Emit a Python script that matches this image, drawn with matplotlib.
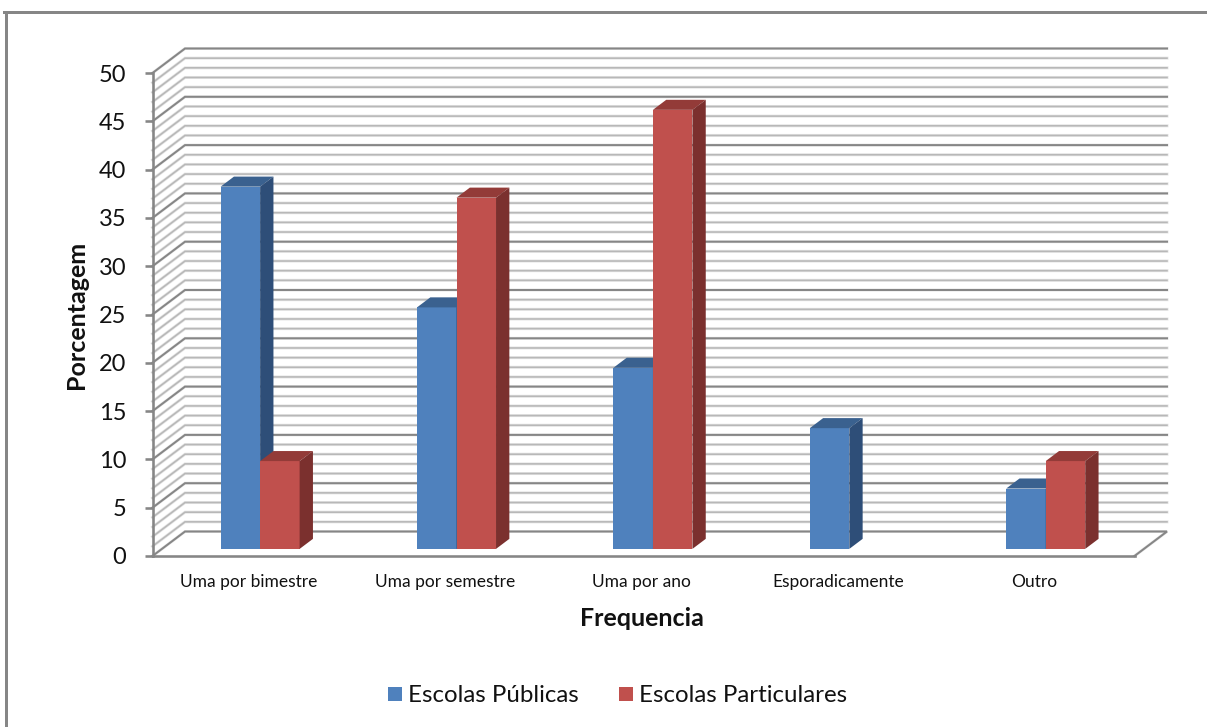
""" frequencia por tipo de escola, 3D look column chart """

import matplotlib
matplotlib.use('Agg')
import matplotlib.pyplot as plt
from matplotlib.lines import Line2D
from matplotlib.patches import Patch, Polygon

categories = ['Uma por bimestre', 'Uma por semestre', 'Uma por ano', 'Esporadicamente', 'Outro']
publicas = [37.5, 25, 18.75, 12.5, 6.25]
particulares = [9.09, 36.36, 45.45, 0, 9.09]
series_names = ['Escolas Públicas', 'Escolas Particulares']
y_ticks = list(range(0, 55, 5))

W, H = 1207, 727
AX_L, AX_R, AX_T, AX_B = 152.5, 1134.5, 73, 556

plt.rcParams['font.family'] = ['Lato', 'DejaVu Sans']
px = 0.72  # one pixel in points at dpi 100

fig = plt.figure(figsize=(W / 100, H / 100), dpi=100)
ax = fig.add_axes([AX_L / W, 1 - AX_B / H, (AX_R - AX_L) / W, (AX_B - AX_T) / H])
ax.set_xlim(0, len(categories))
ax.set_ylim(0, 50)
ax.patch.set_alpha(0)

# depth of the fake 3D box, in data units
DX = 32.5 / ((AX_R - AX_L) / len(categories))
DY = 24.5 / ((AX_B - AX_T) / 50)
n = len(categories)

# walls
for v in range(0, 51):
    major = v % 5 == 0
    color = '#868686' if major else '#b8b8b8'
    xs = [0, DX, n + DX]
    ys = [v, v + DY, v + DY]
    if v == 0:
        xs = [n, n + DX, DX, 0]
        ys = [0, DY, DY, 0]
    ax.plot(xs, ys, color='#e6e6e6', lw=3.0 * px, clip_on=False, zorder=1, solid_joinstyle='miter')
    ax.plot(xs, ys, color=color, lw=(2.0 if major else 1.6) * px, clip_on=False, zorder=1.1,
            solid_joinstyle='miter')

# bars
BAR_W = 39.5 / ((AX_R - AX_L) / n)
BASE_F = 0.29
DEPTH_F = 0.41


def draw_bars(values, offset, front, top, side, z):
    for i, v in enumerate(values):
        if v == 0:
            continue
        x0 = i + 0.5 + BASE_F * DX + offset
        y0 = BASE_F * DY
        ddx, ddy = DEPTH_F * DX, DEPTH_F * DY
        ax.bar(x0, v, BAR_W, bottom=y0, align='edge', color=front, zorder=z, clip_on=False)
        y1 = y0 + v
        ax.add_patch(Polygon([(x0, y1), (x0 + ddx, y1 + ddy), (x0 + BAR_W + ddx, y1 + ddy), (x0 + BAR_W, y1)],
                             facecolor=top, edgecolor='none', zorder=z, clip_on=False))
        ax.add_patch(Polygon([(x0 + BAR_W, y0), (x0 + BAR_W + ddx, y0 + ddy), (x0 + BAR_W + ddx, y1 + ddy),
                              (x0 + BAR_W, y1)],
                             facecolor=side, edgecolor='none', zorder=z, clip_on=False))


draw_bars(publicas, -BAR_W, '#4f81bd', '#3a618f', '#2e4e78', 3)
draw_bars(particulares, 0, '#c0504d', '#933b38', '#7b302e', 4)

# axes
for s in ['top', 'right']:
    ax.spines[s].set_visible(False)
for s in ['left', 'bottom']:
    ax.spines[s].set_color('#868686')
    ax.spines[s].set_linewidth(2.6 * px)
    ax.spines[s].set_zorder(2)

ax.set_yticks(y_ticks)
ax.set_yticklabels([str(t) for t in y_ticks], fontsize=17, color='#111111')
ax.tick_params(axis='y', length=8 * px, width=2.6 * px, color='#868686', pad=13)
ax.set_xticks([i + 0.49 for i in range(n)])
ax.set_xticklabels(categories, fontsize=12.5, color='#111111')
ax.tick_params(axis='x', length=0, pad=13)

fig.text(76 / W, 1 - 315 / H, 'Porcentagem', rotation=90, fontsize=18, fontweight='bold',
         ha='center', va='center', color='#111111')
fig.text(642 / W, 1 - 618 / H, 'Frequencia', fontsize=18, fontweight='bold',
         ha='center', va='center', color='#111111')

# outer frame, only left and top survive in the picture
fig.add_artist(Line2D([5.5 / W, 5.5 / W], [0, 1 - 11.5 / H], color='#868686', lw=3 * px))
fig.add_artist(Line2D([4 / W, 1], [1 - 11.5 / H, 1 - 11.5 / H], color='#868686', lw=3 * px))

handles = [Patch(facecolor='#4f81bd', label=series_names[0]),
           Patch(facecolor='#c0504d', label=series_names[1])]
fig.legend(handles=handles, ncol=2, frameon=False, fontsize=17.3, loc='center',
           bbox_to_anchor=(617.5 / W, 1 - 696 / H), handlelength=0.58, handleheight=0.58,
           handletextpad=0.25, columnspacing=1.66, labelcolor='#111111')

fig.savefig('out.png', dpi=100)
